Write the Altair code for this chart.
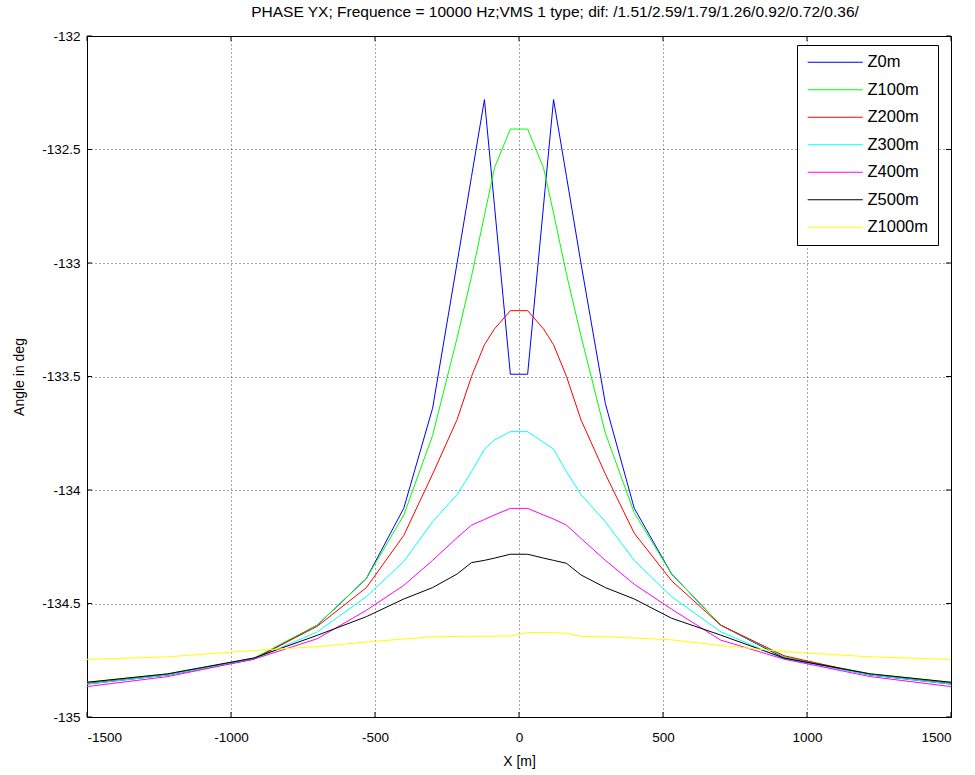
import altair as alt
import pandas as pd

# ---- data ----
x_m = [-1500, -1220, -920, -700, -530, -400, -300, -215, -165, -120, -85, -30,
       30, 85, 120, 165, 215, 300, 400, 530, 700, 920, 1220, 1500]

z0 = [-134.855, -134.815, -134.745, -134.595, -134.390, -134.080, -133.640, -133.000,
      -132.620, -132.280, -132.750, -133.490, -133.490, -132.750, -132.280, -132.620,
      -133.000, -133.620, -134.080, -134.370, -134.595, -134.740, -134.815, -134.855]
z100 = [-134.847, -134.810, -134.740, -134.595, -134.390, -134.110, -133.760, -133.330,
        -133.060, -132.790, -132.580, -132.410, -132.410, -132.580, -132.780, -133.050,
        -133.320, -133.750, -134.100, -134.370, -134.595, -134.735, -134.810, -134.847]
z200 = [-134.852, -134.815, -134.745, -134.600, -134.430, -134.200, -133.930, -133.690,
        -133.500, -133.360, -133.290, -133.210, -133.210, -133.290, -133.360, -133.500,
        -133.690, -133.930, -134.190, -134.400, -134.595, -134.730, -134.815, -134.852]
z300 = [-134.855, -134.815, -134.745, -134.625, -134.470, -134.315, -134.140, -134.020,
        -133.920, -133.820, -133.780, -133.743, -133.743, -133.790, -133.820, -133.920,
        -134.020, -134.140, -134.310, -134.470, -134.624, -134.745, -134.815, -134.855]
z400 = [-134.866, -134.822, -134.745, -134.655, -134.530, -134.420, -134.310, -134.210,
        -134.155, -134.130, -134.110, -134.081, -134.081, -134.110, -134.128, -134.155,
        -134.213, -134.310, -134.415, -134.525, -134.661, -134.745, -134.822, -134.866]
z500 = [-134.847, -134.810, -134.740, -134.640, -134.558, -134.480, -134.430, -134.370,
        -134.320, -134.310, -134.300, -134.283, -134.283, -134.300, -134.310, -134.323,
        -134.374, -134.430, -134.480, -134.565, -134.639, -134.740, -134.810, -134.847]
z1000 = [-134.746, -134.735, -134.707, -134.690, -134.670, -134.656, -134.647, -134.645,
         -134.645, -134.644, -134.644, -134.643, -134.628, -134.628, -134.629, -134.631,
         -134.645, -134.647, -134.652, -134.660, -134.685, -134.712, -134.735, -134.746]

series_names = ["Z0m", "Z100m", "Z200m", "Z300m", "Z400m", "Z500m", "Z1000m"]
series_vals = [z0, z100, z200, z300, z400, z500, z1000]
series_colors = ["#0000ff", "#00ff00", "#ff0000", "#00ffff", "#ff00ff", "#000000", "#ffff00"]

x_ticks = [-1500, -1000, -500, 0, 500, 1000, 1500]
y_ticks = [-135, -134.5, -134, -133.5, -133, -132.5, -132]

title_text = "PHASE YX; Frequence = 10000 Hz;VMS 1 type; dif: /1.51/2.59/1.79/1.26/0.92/0.72/0.36/"

rows = []
for name, vals in zip(series_names, series_vals):
    for i, (xv, yv) in enumerate(zip(x_m, vals)):
        rows.append({"x": xv, "v": yv, "series": name, "order": i})
df = pd.DataFrame(rows)

W, H = 864, 681
FONT = "Liberation Sans"

xscale = alt.Scale(domain=[-1500, 1500], nice=False, zero=False)
yscale = alt.Scale(domain=[-135, -132], nice=False, zero=False)

grid_kw = dict(grid=True, gridColor="black", gridDash=[1, 3], gridOpacity=0.7, gridWidth=1,
               ticks=False, domain=False, labelFont=FONT, labelFontSize=13.5,
               labelColor="black", titleFont=FONT, titleFontSize=14,
               titleFontWeight="normal", titleColor="black",
               labelExpr="datum.value + ''")

lines = alt.Chart(df).mark_line(strokeWidth=1, clip=True).encode(
    x=alt.X("x:Q", scale=xscale,
            axis=alt.Axis(title="X [m]", values=x_ticks, labelPadding=13, titlePadding=11,
                          **grid_kw)),
    y=alt.Y("v:Q", scale=yscale,
            axis=alt.Axis(title="Angle in deg", values=y_ticks, labelPadding=7, titlePadding=15,
                          **grid_kw)),
    color=alt.Color("series:N", sort=series_names,
                    scale=alt.Scale(domain=series_names, range=series_colors),
                    legend=alt.Legend(title=None, orient="none", legendX=710, legendY=9,
                                      symbolType="M-4,0H4", symbolSize=190,
                                      symbolOffset=21,
                                      symbolStrokeWidth=1, labelFontSize=16.5,
                                      labelFont=FONT, labelColor="black", fillColor="white",
                                      strokeColor="black", padding=9,
                                      rowPadding=10.5, labelOffset=24)),
    order="order:Q",
)

xt = pd.DataFrame({"t": x_ticks})
yt = pd.DataFrame({"t": y_ticks})

tick_bottom = alt.Chart(xt).mark_rule(color="black", strokeWidth=1).encode(
    x=alt.X("t:Q", scale=xscale), y=alt.value(H), y2=alt.value(H - 5))
tick_top = alt.Chart(xt).mark_rule(color="black", strokeWidth=1).encode(
    x=alt.X("t:Q", scale=xscale), y=alt.value(0), y2=alt.value(5))
tick_left = alt.Chart(yt).mark_rule(color="black", strokeWidth=1).encode(
    y=alt.Y("t:Q", scale=yscale), x=alt.value(0), x2=alt.value(5))
tick_right = alt.Chart(yt).mark_rule(color="black", strokeWidth=1).encode(
    y=alt.Y("t:Q", scale=yscale), x=alt.value(W), x2=alt.value(W - 5))

chart = alt.layer(lines, tick_bottom, tick_top, tick_left, tick_right).properties(
    width=W, height=H,
    background="white",
    title=alt.TitleParams(title_text, fontSize=15.5, fontWeight="normal", font=FONT,
                          anchor="middle", offset=9, color="black", dx=36),
    autosize=alt.AutoSizeParams(type="none"),
    padding={"left": 87, "top": 36, "right": 24, "bottom": 58},
).configure_view(stroke="black", strokeWidth=1)

chart.save("out.html", embed_options={"renderer": "svg", "actions": False})
